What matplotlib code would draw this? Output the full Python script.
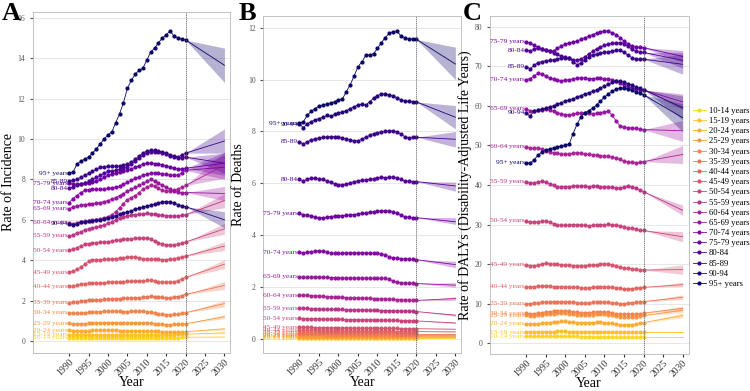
import numpy as np
import matplotlib.pyplot as plt

plt.rcParams['font.family'] = ['Liberation Serif', 'DejaVu Serif']

years = list(range(1990, 2021))
ages = ['10-14 years', '15-19 years', '20-24 years', '25-29 years', '30-34 years',
        '35-39 years', '40-44 years', '45-49 years', '50-54 years', '55-59 years',
        '60-64 years', '65-69 years', '70-74 years', '75-79 years', '80-84',
        '85-89', '90-94', '95+ years']

# ---- A: incidence ----
inc_10 = [0.15,0.15,0.15,0.15,0.15,0.15,0.15,0.15,0.16,0.16,
          0.16,0.16,0.16,0.16,0.16,0.16,0.16,0.16,0.16,0.16,
          0.16,0.16,0.16,0.16,0.16,0.16,0.16,0.17,0.17,0.18,0.18]
inc_15 = [0.30,0.30,0.30,0.30,0.30,0.30,0.31,0.31,0.31,0.31,
          0.31,0.31,0.31,0.31,0.31,0.31,0.31,0.31,0.31,0.31,
          0.31,0.31,0.30,0.30,0.30,0.30,0.30,0.31,0.32,0.33,0.34]
inc_20 = [0.52,0.50,0.50,0.50,0.51,0.51,0.52,0.52,0.52,0.52,
          0.52,0.52,0.52,0.51,0.51,0.51,0.51,0.51,0.51,0.51,
          0.50,0.49,0.48,0.47,0.46,0.45,0.45,0.45,0.45,0.45,0.46]
inc_25 = [0.88,0.86,0.85,0.85,0.86,0.87,0.88,0.89,0.90,0.90,
          0.91,0.91,0.91,0.90,0.90,0.90,0.90,0.90,0.90,0.90,
          0.89,0.88,0.86,0.84,0.82,0.81,0.81,0.82,0.83,0.84,0.85]
inc_30 = [1.40,1.38,1.37,1.38,1.40,1.42,1.43,1.44,1.45,1.46,
          1.47,1.47,1.47,1.46,1.45,1.45,1.46,1.47,1.48,1.47,
          1.45,1.42,1.38,1.34,1.31,1.30,1.30,1.31,1.33,1.37,1.40]
inc_35 = [1.90,1.92,1.95,1.98,2.00,2.02,2.03,2.04,2.05,2.06,
          2.07,2.08,2.09,2.10,2.11,2.12,2.13,2.14,2.15,2.17,
          2.20,2.21,2.20,2.18,2.16,2.15,2.15,2.17,2.20,2.25,2.30]
inc_40 = [2.70,2.72,2.76,2.80,2.83,2.85,2.86,2.87,2.88,2.89,
          2.90,2.91,2.92,2.93,2.94,2.95,2.96,2.97,2.98,2.99,
          3.00,3.00,2.97,2.94,2.92,2.91,2.91,2.93,2.98,3.06,3.15]
inc_45 = [3.40,3.45,3.55,3.65,3.80,3.95,4.00,4.02,4.03,4.04,
          4.05,4.06,4.08,4.10,4.12,4.14,4.15,4.16,4.12,4.08,
          4.06,4.06,4.05,4.04,4.03,4.03,4.05,4.08,4.12,4.16,4.20]
inc_50 = [4.50,4.55,4.62,4.70,4.78,4.82,4.84,4.86,4.88,4.90,
          4.92,4.95,4.98,5.00,5.03,5.05,5.06,5.08,5.10,5.10,
          5.10,5.05,4.95,4.85,4.78,4.75,4.75,4.77,4.80,4.85,4.90]
inc_55 = [5.20,5.25,5.35,5.40,5.50,5.55,5.58,5.62,5.68,5.75,
          5.82,5.90,6.00,6.08,6.15,6.20,6.23,6.26,6.28,6.30,
          6.32,6.30,6.28,6.25,6.22,6.20,6.20,6.18,6.20,6.22,6.25]
inc_60 = [5.85,5.80,5.85,5.90,5.93,5.95,5.98,6.00,6.05,6.10,
          6.15,6.25,6.40,6.60,6.80,7.00,7.10,7.20,7.35,7.50,
          7.62,7.70,7.65,7.55,7.45,7.40,7.40,7.45,7.52,7.60,7.70]
inc_65 = [6.55,6.62,6.70,6.72,6.75,6.78,6.80,6.82,6.85,6.90,
          6.95,7.02,7.10,7.20,7.30,7.40,7.50,7.60,7.70,7.80,
          7.90,8.00,7.90,7.80,7.70,7.60,7.50,7.40,7.37,7.35,7.35]
inc_70 = [6.85,7.05,7.20,7.35,7.45,7.48,7.50,7.50,7.50,7.52,
          7.55,7.58,7.62,7.65,7.75,7.85,7.95,8.05,8.12,8.20,
          8.25,8.30,8.30,8.30,8.28,8.25,8.22,8.20,8.22,8.30,8.45]
inc_75 = [7.80,7.78,7.75,7.77,7.80,7.82,7.85,7.90,8.00,8.10,
          8.20,8.25,8.30,8.35,8.40,8.45,8.52,8.60,8.68,8.75,
          8.80,8.80,8.78,8.75,8.70,8.65,8.60,8.55,8.52,8.50,8.55]
inc_80 = [7.55,7.62,7.70,7.75,7.80,7.90,8.00,8.10,8.20,8.30,
          8.40,8.42,8.45,8.50,8.55,8.60,8.75,8.90,9.05,9.20,
          9.30,9.35,9.36,9.35,9.30,9.25,9.18,9.10,9.07,9.05,9.10]
inc_85 = [7.90,7.95,8.00,8.10,8.20,8.30,8.40,8.50,8.60,8.63,
          8.65,8.65,8.65,8.66,8.70,8.75,8.85,9.00,9.15,9.30,
          9.40,9.45,9.43,9.40,9.35,9.30,9.22,9.15,9.10,9.20,9.30]
inc_90 = [5.80,5.72,5.80,5.88,5.90,5.92,5.95,5.97,6.00,6.05,
          6.10,6.15,6.20,6.28,6.33,6.38,6.45,6.52,6.58,6.62,
          6.68,6.72,6.78,6.84,6.88,6.90,6.88,6.84,6.75,6.68,6.65]
inc_95 = [8.30,8.35,8.75,8.90,9.00,9.10,9.30,9.50,9.75,10.00,
          10.20,10.35,10.80,11.25,11.80,12.50,12.90,13.20,13.40,13.50,
          13.90,14.30,14.50,14.75,15.00,15.15,15.35,15.10,15.00,14.95,14.90]
inc_2030 = [0.20,0.40,0.60,1.20,1.85,2.75,3.80,4.70,5.55,6.95,8.70,7.30,8.60,8.80,8.80,9.90,6.00,13.65]
inc_2030_lo = [0.18,0.36,0.54,1.10,1.68,2.55,3.58,4.48,5.28,6.60,8.05,6.95,8.00,8.20,8.30,9.30,5.60,12.80]
inc_2030_hi = [0.22,0.44,0.66,1.30,2.02,2.95,4.02,4.92,5.82,7.30,9.35,7.65,9.20,9.35,9.30,10.50,6.40,14.50]

# ---- B: deaths ----
death_10 = [0.03,0.03,0.03,0.03,0.03,0.03,0.03,0.03,0.03,0.03,
            0.03,0.03,0.03,0.03,0.03,0.03,0.03,0.03,0.03,0.03,
            0.03,0.03,0.03,0.03,0.03,0.03,0.03,0.03,0.03,0.03,0.03]
death_15 = [0.05,0.05,0.05,0.05,0.05,0.05,0.05,0.05,0.05,0.05,
            0.05,0.05,0.05,0.05,0.05,0.05,0.05,0.05,0.05,0.05,
            0.04,0.04,0.04,0.04,0.04,0.04,0.04,0.04,0.04,0.04,0.04]
death_20 = [0.08,0.08,0.08,0.08,0.08,0.08,0.08,0.08,0.08,0.08,
            0.08,0.08,0.08,0.08,0.08,0.08,0.07,0.07,0.07,0.07,
            0.07,0.07,0.07,0.07,0.07,0.07,0.07,0.07,0.07,0.07,0.07]
death_25 = [0.12,0.12,0.12,0.12,0.12,0.12,0.12,0.12,0.12,0.12,
            0.11,0.11,0.11,0.11,0.11,0.11,0.11,0.11,0.11,0.11,
            0.11,0.11,0.11,0.10,0.10,0.10,0.10,0.10,0.10,0.10,0.10]
death_30 = [0.18,0.18,0.18,0.18,0.18,0.18,0.18,0.17,0.17,0.17,
            0.17,0.17,0.17,0.17,0.17,0.16,0.16,0.16,0.16,0.16,
            0.16,0.16,0.16,0.16,0.15,0.15,0.15,0.15,0.15,0.15,0.15]
death_35 = [0.25,0.25,0.25,0.25,0.25,0.24,0.24,0.24,0.24,0.24,
            0.24,0.23,0.23,0.23,0.23,0.23,0.23,0.23,0.22,0.22,
            0.22,0.22,0.22,0.22,0.22,0.21,0.21,0.21,0.21,0.21,0.21]
death_40 = [0.33,0.33,0.33,0.33,0.33,0.32,0.32,0.32,0.32,0.32,
            0.32,0.31,0.31,0.31,0.31,0.31,0.31,0.31,0.30,0.30,
            0.30,0.30,0.30,0.30,0.30,0.29,0.29,0.29,0.29,0.29,0.29]
death_45 = [0.45,0.45,0.45,0.45,0.44,0.44,0.44,0.44,0.44,0.43,
            0.43,0.43,0.43,0.43,0.42,0.42,0.42,0.42,0.42,0.42,
            0.42,0.41,0.41,0.41,0.41,0.41,0.40,0.40,0.40,0.40,0.40]
death_50 = [0.80,0.79,0.79,0.78,0.78,0.78,0.77,0.77,0.77,0.76,
            0.76,0.76,0.75,0.75,0.75,0.75,0.74,0.74,0.74,0.74,
            0.73,0.73,0.73,0.72,0.72,0.72,0.71,0.71,0.71,0.70,0.70]
death_55 = [1.19,1.18,1.18,1.17,1.17,1.16,1.16,1.15,1.15,1.14,
            1.14,1.14,1.13,1.13,1.13,1.12,1.12,1.12,1.11,1.11,
            1.11,1.10,1.10,1.10,1.09,1.09,1.08,1.08,1.07,1.07,1.06]
death_60 = [1.69,1.68,1.68,1.67,1.67,1.66,1.65,1.64,1.63,1.62,
            1.62,1.61,1.60,1.60,1.59,1.59,1.58,1.58,1.57,1.56,
            1.56,1.55,1.55,1.54,1.53,1.52,1.52,1.51,1.50,1.50,1.49]
death_65 = [2.40,2.38,2.38,2.39,2.39,2.39,2.38,2.38,2.37,2.37,
            2.36,2.36,2.35,2.35,2.35,2.35,2.35,2.34,2.34,2.34,
            2.34,2.34,2.34,2.30,2.24,2.19,2.17,2.16,2.15,2.15,2.14]
death_70 = [3.35,3.32,3.34,3.37,3.39,3.40,3.38,3.35,3.32,3.30,
            3.30,3.31,3.32,3.33,3.33,3.32,3.32,3.32,3.31,3.31,
            3.30,3.28,3.24,3.18,3.14,3.12,3.10,3.09,3.08,3.07,3.06]
death_75 = [4.84,4.80,4.77,4.74,4.70,4.68,4.68,4.70,4.72,4.74,
            4.75,4.76,4.77,4.78,4.80,4.82,4.84,4.86,4.88,4.90,
            4.92,4.93,4.94,4.93,4.90,4.85,4.78,4.72,4.69,4.68,4.68]
death_80 = [6.15,6.10,6.15,6.20,6.20,6.18,6.15,6.10,6.04,5.98,
            5.95,5.93,5.96,6.02,6.07,6.10,6.12,6.13,6.15,6.18,
            6.22,6.23,6.22,6.23,6.25,6.22,6.15,6.10,6.08,6.07,6.07]
death_85 = [7.60,7.52,7.60,7.68,7.72,7.75,7.77,7.78,7.80,7.80,
            7.78,7.75,7.72,7.68,7.63,7.65,7.70,7.78,7.85,7.92,
            7.96,7.98,8.00,8.02,8.03,7.98,7.90,7.80,7.76,7.77,7.78]
death_90 = [8.28,8.15,8.30,8.38,8.45,8.50,8.55,8.62,8.58,8.66,
            8.72,8.75,8.80,8.88,8.95,9.02,9.05,9.02,9.15,9.28,
            9.38,9.45,9.45,9.42,9.38,9.30,9.22,9.18,9.16,9.15,9.14]
death_95 = [8.32,8.38,8.62,8.78,8.88,8.98,9.02,9.06,9.10,9.15,
            9.22,9.25,9.53,9.80,10.13,10.50,10.68,10.94,10.95,11.00,
            11.20,11.42,11.62,11.78,11.85,11.88,11.68,11.62,11.58,11.56,11.55]
death_2030 = [0.03,0.045,0.07,0.10,0.15,0.21,0.28,0.38,0.62,0.92,1.56,2.08,2.87,4.52,5.90,7.70,8.55,10.60]
death_2030_lo = [0.025,0.04,0.06,0.09,0.14,0.19,0.26,0.36,0.59,0.88,1.49,2.00,2.75,4.42,5.70,7.40,8.10,10.00]
death_2030_hi = [0.035,0.05,0.08,0.11,0.16,0.23,0.30,0.40,0.65,0.96,1.63,2.17,3.00,4.68,6.05,8.00,9.00,11.25]

# ---- C: DALYs ----
dal_10 = [1.7,1.7,1.7,1.7,1.7,1.7,1.7,1.7,1.7,1.7,
          1.7,1.7,1.7,1.7,1.6,1.6,1.6,1.6,1.6,1.6,
          1.6,1.6,1.6,1.5,1.5,1.5,1.5,1.5,1.5,1.5,1.5]
dal_15 = [2.8,2.8,2.8,2.8,2.9,2.9,2.9,2.9,3.0,3.0,
          3.0,2.9,2.9,2.9,2.9,2.9,2.9,2.9,2.9,2.9,
          2.9,2.9,2.8,2.8,2.7,2.7,2.7,2.7,2.7,2.8,2.8]
dal_20 = [4.9,4.8,4.8,4.9,5.0,5.1,5.2,5.3,5.4,5.5,
          5.5,5.4,5.3,5.2,5.2,5.2,5.2,5.2,5.3,5.3,
          5.2,5.1,5.0,4.8,4.7,4.6,4.6,4.7,4.8,5.0,5.2]
dal_25 = [7.0,6.9,6.9,7.0,7.1,7.3,7.4,7.5,7.6,7.6,
          7.6,7.5,7.3,7.2,7.1,7.1,7.1,7.2,7.3,7.3,
          7.3,7.2,7.0,6.8,6.7,6.6,6.6,6.6,6.7,6.8,7.0]
dal_30 = [7.6,7.5,7.5,7.6,7.7,7.9,8.0,8.1,8.2,8.2,
          8.2,8.1,7.9,7.8,7.7,7.7,7.7,7.8,7.9,7.9,
          7.9,7.8,7.7,7.5,7.4,7.3,7.3,7.3,7.4,7.5,7.6]
dal_35 = [10.0,10.0,10.1,10.2,10.3,10.4,10.4,10.5,10.5,10.5,
          10.5,10.4,10.3,10.2,10.1,10.1,10.2,10.3,10.4,10.4,
          10.4,10.3,10.2,10.1,10.0,10.0,10.1,10.2,10.3,10.4,10.5]
dal_40 = [14.3,14.2,14.3,14.4,14.5,14.5,14.4,14.3,14.3,14.3,
          14.3,14.2,14.2,14.1,14.0,13.9,14.0,14.1,14.2,14.3,
          14.3,14.2,14.1,14.0,13.9,13.8,13.7,13.8,13.9,14.0,14.1]
dal_45 = [19.8,19.6,19.5,19.7,20.0,20.2,20.1,20.0,19.9,19.8,
          19.8,19.7,19.6,19.6,19.5,19.6,19.7,19.7,19.8,20.0,
          20.1,20.0,19.8,19.5,19.2,19.0,18.9,18.8,18.7,18.6,18.5]
dal_50 = [30.9,30.7,30.6,30.7,30.8,30.9,30.6,30.2,29.9,29.8,
          29.8,29.9,30.0,30.0,29.9,29.8,29.7,29.8,29.9,30.0,
          30.0,30.1,30.0,29.8,29.6,29.4,29.2,29.0,28.8,28.6,28.5]
dal_55 = [40.8,40.5,40.5,40.8,40.9,40.7,40.3,39.9,39.6,39.5,
          39.6,39.6,39.7,39.8,39.7,39.7,39.6,39.7,39.7,39.6,
          39.5,39.5,39.4,39.3,39.2,39.4,39.8,39.6,39.2,38.8,38.3]
dal_60 = [49.6,49.4,49.3,49.4,49.1,48.7,48.3,48.1,48.0,47.9,
          47.8,47.8,48.0,48.2,48.0,47.8,47.7,47.6,47.5,47.4,
          47.3,47.2,47.0,46.8,46.5,46.0,45.8,45.7,45.6,45.7,45.9]
dal_65 = [59.2,58.8,58.7,58.9,59.0,59.1,58.9,58.6,58.3,58.0,
          57.8,57.8,57.9,58.1,58.2,58.2,58.1,58.0,58.1,58.3,
          58.5,58.6,57.6,56.2,54.9,54.6,54.5,54.4,54.3,54.1,54.0]
dal_70 = [66.6,66.9,67.5,68.2,68.0,67.6,67.0,66.7,66.5,66.4,
          66.5,66.6,66.8,67.0,67.1,67.0,66.8,66.9,67.0,67.0,
          66.9,66.8,66.6,66.3,65.8,65.2,64.8,64.5,64.3,64.1,64.0]
dal_75 = [76.2,75.8,75.3,74.8,74.4,74.1,73.9,73.8,74.5,75.2,
          75.6,75.9,76.1,76.4,76.8,77.2,77.6,78.0,78.4,78.7,
          78.9,78.8,78.5,78.0,77.2,76.4,75.7,75.1,74.9,74.8,74.7]
dal_80 = [74.1,73.9,74.3,74.6,74.4,74.1,73.8,73.4,73.0,72.6,
          72.3,72.0,71.7,71.5,71.8,72.4,73.1,73.8,74.4,74.9,
          75.3,75.6,75.8,75.9,76.0,75.7,75.0,74.3,73.8,73.6,73.5]
dal_85 = [69.9,69.3,70.2,70.9,71.2,71.4,71.5,71.6,71.8,72.0,
          72.2,72.0,71.2,70.4,70.8,71.6,72.3,72.8,73.1,73.3,
          73.5,73.6,73.8,74.0,74.1,73.6,72.8,72.2,71.9,71.8,71.8]
dal_90 = [58.2,57.4,58.6,58.9,59.1,59.4,59.7,60.0,60.4,60.8,
          61.2,61.5,61.8,62.2,62.6,63.0,63.3,63.7,64.0,64.5,
          65.0,65.5,65.9,66.2,66.2,66.0,65.6,65.2,64.8,64.4,64.1]
dal_95 = [45.6,45.5,46.3,47.5,48.3,48.8,49.1,49.4,49.6,49.8,
          50.0,50.3,53.0,55.3,57.2,58.2,58.8,59.4,60.2,61.2,
          62.2,63.0,63.7,64.2,64.5,64.5,64.3,64.0,63.6,63.2,62.8]
dal_2030 = [1.5,2.8,7.0,8.3,8.8,11.6,14.8,18.6,26.9,33.6,47.7,53.7,61.0,72.5,71.5,70.5,59.5,57.0]
dal_2030_lo = [1.4,2.6,6.4,7.7,8.2,11.0,14.2,17.4,25.6,32.3,45.4,51.0,59.0,71.0,69.5,68.0,56.5,53.5]
dal_2030_hi = [1.6,3.0,7.6,8.9,9.4,12.2,15.4,19.8,28.2,34.9,50.0,56.3,63.0,74.0,73.5,73.0,62.5,60.5]

inc = [inc_10, inc_15, inc_20, inc_25, inc_30, inc_35, inc_40, inc_45, inc_50,
       inc_55, inc_60, inc_65, inc_70, inc_75, inc_80, inc_85, inc_90, inc_95]
death = [death_10, death_15, death_20, death_25, death_30, death_35, death_40, death_45, death_50,
         death_55, death_60, death_65, death_70, death_75, death_80, death_85, death_90, death_95]
dal = [dal_10, dal_15, dal_20, dal_25, dal_30, dal_35, dal_40, dal_45, dal_50,
       dal_55, dal_60, dal_65, dal_70, dal_75, dal_80, dal_85, dal_90, dal_95]

colors = plt.cm.plasma(np.linspace(0.92, 0.0, len(ages)))
# oldest groups look a bit darker (navy) in the original
for i in range(13, len(ages)):
    f = 1 - 0.045 * (i - 12)
    colors[i, :3] = colors[i, :3] * f


def draw_panel(ax, series, mid, lo, hi, ylim, yticks, ylabel):
    handles = []
    for i in range(len(ages)):
        c = colors[i]
        y = series[i]
        h, = ax.plot(years, y, '-o', color=c, lw=0.6, ms=2.0, label=ages[i])
        handles.append(h)
        ax.fill_between([2020, 2030], [y[-1], lo[i]], [y[-1], hi[i]],
                        color=c, alpha=0.3, lw=0)
        ax.plot([2020, 2030], [y[-1], mid[i]], color=c, lw=0.6)
        ax.text(1989.6, y[0], ages[i], color=c, fontsize=5.3,
                ha='right', va='center')
    ax.axvline(2020, color='#555555', lw=0.5, ls=(0, (2, 1)))
    ax.set_xlim(1980.7, 2031.5)
    ax.set_ylim(*ylim)
    ax.set_yticks(yticks)
    ax.set_xticks(range(1990, 2031, 5))
    ax.tick_params(axis='x', labelsize=7, rotation=45, length=2, pad=1, colors='#333333')
    ax.tick_params(axis='y', labelsize=5.5, length=2, colors='#555555')
    for lab in ax.get_xticklabels():
        lab.set_ha('right')
        lab.set_rotation_mode('anchor')
    ax.grid(axis='y', color='#e3e3e3', lw=0.6)
    ax.set_axisbelow(True)
    for s in ax.spines.values():
        s.set_color('#b8b8b8')
        s.set_linewidth(0.6)
    ax.set_xlabel('Year', fontsize=10, labelpad=-1)
    ax.set_ylabel(ylabel, fontsize=10, labelpad=2)
    return handles


fig = plt.figure(figsize=(7.5, 3.91), dpi=100)
axA = fig.add_axes([0.044, 0.097, 0.263, 0.873])
axB = fig.add_axes([0.351, 0.097, 0.264, 0.862])
axC = fig.add_axes([0.653, 0.095, 0.265, 0.864])

hs = draw_panel(axA, inc, inc_2030, inc_2030_lo, inc_2030_hi,
                (-0.6, 16.3), range(0, 17, 2), 'Rate of Incidence')
draw_panel(axB, death, death_2030, death_2030_lo, death_2030_hi,
           (-0.54, 12.45), range(0, 13, 2), 'Rate of Deaths')
draw_panel(axC, dal, dal_2030, dal_2030_lo, dal_2030_hi,
           (-2.7, 82.7), range(0, 81, 10), "Rate of DALYs (Disability-Adjusted Life Years)")

fig.text(0.003, 0.995, 'A', fontsize=19, fontweight='bold', va='top')
fig.text(0.318, 0.995, 'B', fontsize=19, fontweight='bold', va='top')
fig.text(0.617, 0.995, 'C', fontsize=19, fontweight='bold', va='top')

fig.legend(hs, ages, loc='center left', bbox_to_anchor=(0.919, 0.495),
           fontsize=6.2, frameon=False, handlelength=1.5, labelspacing=0.25,
           handletextpad=0.4, borderaxespad=0)

fig.savefig('out.png', dpi=100)
